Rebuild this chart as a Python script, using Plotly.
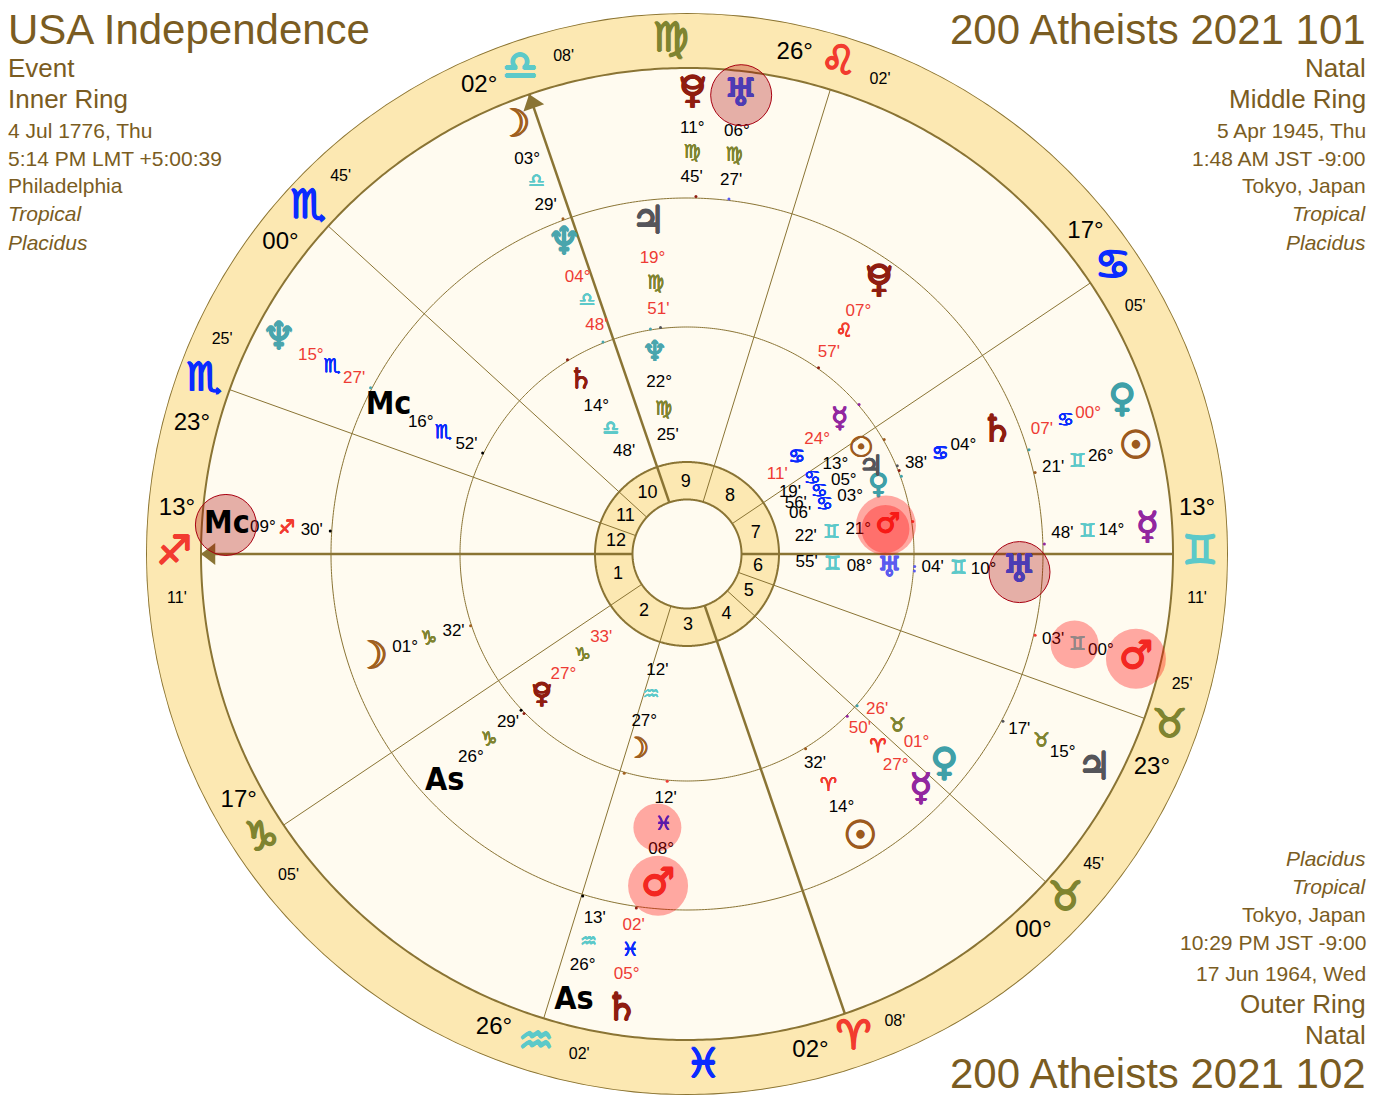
import numpy as np
import plotly.graph_objects as go

# tri-wheel: everything is placed by zodiac longitude, polar rotation puts the Asc on the left

signs = ["Ari", "Tau", "Gem", "Can", "Leo", "Vir", "Lib", "Sco", "Sag", "Cap", "Aqu", "Pis"]
sign_glyphs = ["♈", "♉", "♊", "♋", "♌", "♍", "♎", "♏", "♐", "♑", "♒", "♓"]
sign_colors = ["#F23B2F", "#7F8430", "#5CC9C9", "#0A2BFF"] * 3

# Pluto is a Venus glyph with a cup put over it further down
body_glyphs = {"Sun": "☉", "Moon": "☽", "Mercury": "☿", "Venus": "♀", "Mars": "♂", "Jupiter": "♃",
               "Saturn": "♄", "Uranus": "♅", "Neptune": "♆", "Pluto": "♀"}
body_colors = {"Sun": "#9C5A1E", "Moon": "#A0601F", "Mercury": "#92279F", "Venus": "#3FA0A8", "Mars": "#EE3B34",
               "Jupiter": "#55555A", "Saturn": "#8F1D10", "Uranus": "#5B5BEF", "Neptune": "#4AA5AD",
               "Pluto": "#8F1D10", "As": "#000000", "Mc": "#000000"}

# house cusps, 1 to 12
cusp_sign = ["Sag", "Cap", "Aqu", "Ari", "Tau", "Tau", "Gem", "Can", "Leo", "Lib", "Sco", "Sco"]
cusp_deg = [13, 17, 26, 2, 0, 23, 13, 17, 26, 2, 0, 23]
cusp_min = [11, 5, 2, 8, 45, 25, 11, 5, 2, 8, 45, 25]
# signs with no cusp in them
intercepted = ["Vir", "Pis"]
intercepted_lon = [165.0, 345.0]

outer_bodies = ["Sun", "Moon", "Mercury", "Venus", "Mars", "Jupiter", "Saturn", "Uranus", "Neptune", "Pluto", "As", "Mc"]
outer_sign = ["Gem", "Lib", "Gem", "Can", "Gem", "Tau", "Pis", "Vir", "Sco", "Vir", "Aqu", "Sag"]
outer_deg = [26, 3, 14, 0, 0, 15, 5, 6, 15, 11, 26, 9]
outer_min = [21, 29, 48, 7, 3, 17, 2, 27, 27, 45, 13, 30]
outer_retro = [0, 0, 0, 1, 0, 0, 1, 0, 1, 0, 0, 0]
# where the glyph stack is shown (the chart spreads bodies that would collide)
outer_shown = [86.38, 185.28, 76.28, 92.48, 60.05, 45.28, 335.03, 156.45, 225.45, 162.48, 328.98, 249.58]

middle_bodies = ["Sun", "Moon", "Mercury", "Venus", "Mars", "Jupiter", "Saturn", "Uranus", "Neptune", "Pluto", "As", "Mc"]
middle_sign = ["Ari", "Cap", "Ari", "Tau", "Pis", "Vir", "Can", "Gem", "Lib", "Leo", "Cap", "Sco"]
middle_deg = [14, 1, 27, 1, 8, 19, 4, 10, 4, 7, 26, 16]
middle_min = [32, 32, 50, 26, 12, 51, 38, 4, 48, 57, 29, 52]
middle_retro = [0, 0, 1, 1, 0, 1, 0, 0, 1, 1, 0, 0]
middle_shown = [14.53, 271.53, 27.83, 33.78, 338.2, 169.85, 94.63, 70.07, 184.8, 127.95, 296.48, 226.87]

inner_bodies = ["Sun", "Moon", "Mercury", "Venus", "Mars", "Jupiter", "Saturn", "Uranus", "Neptune", "Pluto"]
inner_sign = ["Can", "Aqu", "Can", "Can", "Gem", "Can", "Lib", "Gem", "Vir", "Cap"]
inner_deg = [13, 27, 24, 3, 21, 5, 14, 8, 22, 27]
inner_min = [19, 12, 11, 6, 22, 56, 48, 55, 25, 33]
inner_retro = [0, 0, 1, 0, 0, 0, 0, 0, 0, 1]
inner_shown = [104.08, 328.88, 114.38, 92.68, 81.37, 98.18, 194.8, 68.92, 172.42, 297.55]

left_lines = ["USA Independence", "Event", "Inner Ring", "4 Jul 1776, Thu", "5:14 PM LMT +5:00:39",
              "Philadelphia", "<i>Tropical</i>", "<i>Placidus</i>"]
right_lines = ["200 Atheists 2021 101", "Natal", "Middle Ring", "5 Apr 1945, Thu", "1:48 AM JST -9:00",
               "Tokyo, Japan", "<i>Tropical</i>", "<i>Placidus</i>"]
bottom_lines = ["<i>Placidus</i>", "<i>Tropical</i>", "Tokyo, Japan", "10:29 PM JST -9:00", "17 Jun 1964, Wed",
                "Outer Ring", "Natal", "200 Atheists 2021 102"]

LINE = "#8A7434"
BAND = "#FCE8B2"
CREAM = "#FFFBF0"
BROWN = "#7A5C22"
RED = "#EE3B34"
NUM_FONT = "Liberation Sans"
GLYPH_FONT = "DejaVu Sans"
CX, CY, R = 687, 554, 541


def lon(sign, deg, mins):
    return signs.index(sign) * 30 + deg + mins / 60


cusps = [lon(s, d, m) for s, d, m in zip(cusp_sign, cusp_deg, cusp_min)]
asc = cusps[0]

fig = go.Figure()


def disc(radius, color):
    t = np.linspace(0, 360, 721)
    fig.add_trace(go.Scatterpolar(r=[radius] * len(t), theta=t, mode="lines", fill="toself", fillcolor=color,
                                  line=dict(color=LINE, width=2), cliponaxis=False, hoverinfo="skip"))


def ring(radius, width=1):
    t = np.linspace(0, 360, 721)
    fig.add_trace(go.Scatterpolar(r=[radius] * len(t), theta=t, mode="lines", line=dict(color=LINE, width=width),
                                  cliponaxis=False, hoverinfo="skip"))


def labels(r, theta, text, size, color, family=NUM_FONT):
    fig.add_trace(go.Scatterpolar(r=r, theta=theta, text=text, mode="text", textposition="middle center",
                                  textfont=dict(size=size, color=color, family=family),
                                  cliponaxis=False, hoverinfo="skip"))


def heavy(r, theta, text, size, colors, w, family=GLYPH_FONT, pos="middle center"):
    # the reference glyphs are much heavier than the font, fatten them with a text shadow
    for c in dict.fromkeys(colors):
        idx = [i for i, x in enumerate(colors) if x == c]
        sh = f"{w}px 0 0 {c}, -{w}px 0 0 {c}, 0 {w}px 0 {c}, 0 -{w}px 0 {c}"
        fig.add_trace(go.Scatterpolar(r=[r[i] for i in idx], theta=[theta[i] for i in idx],
                                      text=[text[i] for i in idx], mode="text", textposition=pos,
                                      textfont=dict(size=size, color=c, family=family, shadow=sh),
                                      cliponaxis=False, hoverinfo="skip"))


disc(541, BAND)
disc(486, CREAM)
ring(356)
ring(227)
disc(92, BAND)
disc(54.5, CREAM)

# cusp lines, the angles are drawn heavier
for i, c in enumerate(cusps):
    fig.add_trace(go.Scatterpolar(r=[54.5, 486], theta=[c, c], mode="lines",
                                  line=dict(color=LINE, width=2.5 if i in (0, 3, 6, 9) else 1),
                                  hoverinfo="skip"))

# arrow heads on Asc and MC
for i in (0, 9):
    mark = 90 - (180 + cusps[i] - asc)
    fig.add_trace(go.Scatterpolar(r=[476.5], theta=[cusps[i]], mode="markers", cliponaxis=False, hoverinfo="skip",
                                  marker=dict(symbol="triangle-up", size=19, color=LINE, angle=mark)))

# house numbers
mids = [c + ((cusps[(i + 1) % 12] - c) % 360) / 2 for i, c in enumerate(cusps)]
labels([72] * 12, mids, [str(i + 1) for i in range(12)], 18, "#000000")

# zodiac band
deg_theta, min_theta = [], []
for c in cusps:
    upper = (180 + c - asc) % 360 < 180
    deg_theta.append(c + (5 if upper else -5))
    min_theta.append(c + (-5 if upper else 5))
labels([512] * 12, deg_theta, [f"{d:02d}°" for d in cusp_deg], 24, "#000000")
labels([512] * 12, min_theta, [f"{m:02d}'" for m in cusp_min], 16, "#000000")
band_signs = cusp_sign + intercepted
band_theta = cusps + intercepted_lon
heavy([513] * len(band_signs), band_theta, [sign_glyphs[signs.index(s)] for s in band_signs], 40,
      [sign_colors[signs.index(s)] for s in band_signs], 0.9)


def wheel(bodies, sgn, deg, mins, retro, shown, radii, tick_r, glyph_size):
    g_r, d_r, s_r, m_r = radii
    n = len(bodies)
    nums = [RED if x else "#000000" for x in retro]
    true_lon = [lon(s, d, m) for s, d, m in zip(sgn, deg, mins)]
    fig.add_trace(go.Scatterpolar(r=[tick_r] * n, theta=true_lon, mode="markers", cliponaxis=False, hoverinfo="skip",
                                  marker=dict(size=3, color=[body_colors[b] for b in bodies])))
    planets = [i for i, b in enumerate(bodies) if b not in ("As", "Mc")]
    heavy([g_r] * len(planets), [shown[i] for i in planets], [body_glyphs[bodies[i]] for i in planets],
          glyph_size, [body_colors[bodies[i]] for i in planets], glyph_size / 50)
    # the cup of the Pluto glyph
    p = bodies.index("Pluto")
    heavy([g_r], [shown[p]], ["◡"], glyph_size * 0.8, [body_colors["Pluto"]], glyph_size / 40, pos="top center")
    labels([d_r] * n, shown, [f"{d:02d}°" for d in deg], 17, nums)
    heavy([s_r] * n, shown, [sign_glyphs[signs.index(s)] for s in sgn], 19,
          [sign_colors[signs.index(s)] for s in sgn], 0.25)
    labels([m_r] * n, shown, [f"{m:02d}'" for m in mins], 17, nums)


wheel(outer_bodies, outer_sign, outer_deg, outer_min, outer_retro, outer_shown, (461, 425, 401, 376), 357.5, 38)
wheel(middle_bodies, middle_sign, middle_deg, middle_min, middle_retro, middle_shown, (333, 297, 272, 246), 228, 38)
wheel(inner_bodies, inner_sign, inner_deg, inner_min, inner_retro, inner_shown, (203, 173, 146, 120), 228, 28)

# highlights on top of the glyphs
red_r = [461, 333, 201]
red_theta = [outer_shown[4], middle_shown[4], inner_shown[4]]
fig.add_trace(go.Scatterpolar(r=red_r, theta=red_theta, mode="markers", cliponaxis=False, hoverinfo="skip",
                              marker=dict(size=60, color="rgba(255,0,0,0.33)", line=dict(width=0))))
sign_r = [398, 275, 200]
sign_theta = [outer_shown[4], middle_shown[4] - 1.2, inner_shown[4] - 1]
fig.add_trace(go.Scatterpolar(r=sign_r, theta=sign_theta, mode="markers", cliponaxis=False, hoverinfo="skip",
                              marker=dict(size=48, color="rgba(255,0,0,0.33)", line=dict(width=0))))
dark_r = [462, 462, 333]
dark_theta = [outer_shown[11], outer_shown[7], middle_shown[7]]
fig.add_trace(go.Scatterpolar(r=dark_r, theta=dark_theta, mode="markers", cliponaxis=False, hoverinfo="skip",
                              marker=dict(size=61, color="rgba(170,0,0,0.3)", line=dict(width=1, color="#A80010"))))
# the dark circles leave what is inside them crisp, so those glyphs go over them again
heavy([461, 333], [outer_shown[7], middle_shown[7]], [body_glyphs["Uranus"]] * 2, 38, ["#4C3CB4"] * 2, 38 / 50)

# As and Mc go last, they stay pure black
for bodies, shown, g_r in ((outer_bodies, outer_shown, 461), (middle_bodies, middle_shown, 333)):
    angles = [bodies.index("As"), bodies.index("Mc")]
    labels([g_r] * 2, [shown[i] for i in angles], [f"<b>{bodies[i]}</b>" for i in angles],
           32, "#000000", "DejaVu Sans Condensed")

# header blocks
sizes = [42, 26, 26, 21, 21, 21, 21, 21]
top_y = [29, 68, 99, 130, 158, 186, 214, 242]
bottom_y = [858, 886, 914, 942, 973, 1004, 1035, 1073]
bottom_sizes = [21, 21, 21, 21, 21, 26, 26, 42]
notes = []
for txt, y, s in zip(left_lines, top_y, sizes):
    notes.append(dict(text=txt, x=6 / 1374, y=1 - y / 1108, xanchor="left", yanchor="middle", font=dict(size=s)))
for txt, y, s in zip(right_lines, top_y, sizes):
    notes.append(dict(text=txt, x=1368 / 1374, y=1 - y / 1108, xanchor="right", yanchor="middle", font=dict(size=s)))
for txt, y, s in zip(bottom_lines, bottom_y, bottom_sizes):
    notes.append(dict(text=txt, x=1368 / 1374, y=1 - y / 1108, xanchor="right", yanchor="middle", font=dict(size=s)))
for n in notes:
    n.update(xref="paper", yref="paper", showarrow=False)
    n["font"].update(color=BROWN, family=NUM_FONT)

fig.update_layout(
    width=1374, height=1108, margin=dict(l=0, r=0, t=0, b=0), showlegend=False, paper_bgcolor="white",
    annotations=notes,
    polar=dict(
        domain=dict(x=[(CX - R) / 1374, (CX + R) / 1374], y=[(1108 - CY - R) / 1108, (1108 - CY + R) / 1108]),
        bgcolor="rgba(0,0,0,0)",
        radialaxis=dict(range=[0, R], visible=False),
        angularaxis=dict(rotation=180 - asc, direction="counterclockwise", visible=False),
    ),
)

fig.write_html("out.html", post_script="document.body.style.margin='0';", config={"displayModeBar": False})
